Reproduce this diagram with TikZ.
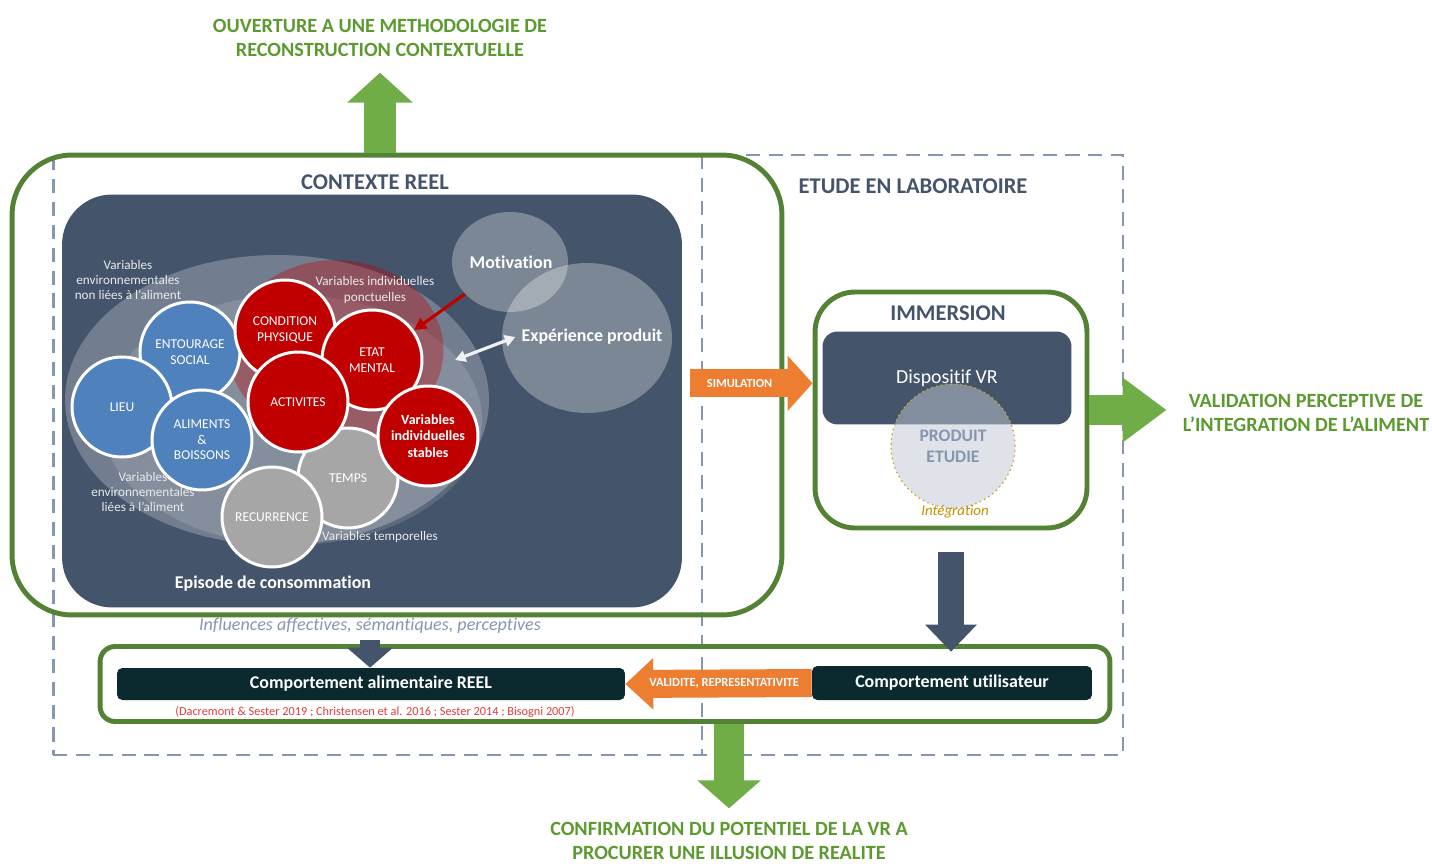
\documentclass[tikz,border=0pt]{standalone}
\usepackage{fontspec}
\setmainfont{Carlito}[Ligatures={NoCommon,NoContextual}, Contextuals=NoAlternate]
\usetikzlibrary{arrows.meta, positioning, shapes.geometric}
\definecolor{slate}{HTML}{44546A}
\definecolor{frameblue}{HTML}{8496B0}
\definecolor{leafline}{HTML}{548235}
\definecolor{leaf}{HTML}{70AD47}
\definecolor{leaftext}{HTML}{5B9A2E}
\definecolor{envblue}{HTML}{4F81BD}
\definecolor{indred}{HTML}{C00000}
\definecolor{tempgray}{HTML}{A6A6A6}
\definecolor{nightbox}{HTML}{0B2A30}
\definecolor{simorange}{HTML}{ED7D31}
\definecolor{mist}{HTML}{C0C8D3}
\definecolor{gold}{HTML}{BF9000}
\definecolor{cite}{HTML}{E03C3C}

\begin{document}
\begin{tikzpicture}[
  x=0.02cm, y=-0.02cm,
  greenbox/.style={draw=leafline, line width=2.8pt, rounded corners=#1},
  greenbox/.default=0.3cm,
  labframe/.style={draw=frameblue, line width=1.6pt, dash pattern=on 8pt off 5pt},
  head/.style={font=\fontsize{12.8}{15}\selectfont\bfseries, text=slate},
  outcome/.style={font=\fontsize{11.5}{13.4}\selectfont\bfseries, text=leaftext, align=center},
  bubble/.style={circle, draw=white, line width=1.7pt, minimum size=2cm, inner sep=0pt, align=center, font=\fontsize{7.7}{8.8}\selectfont, text=white},
  env/.style={bubble, fill=envblue},
  ind/.style={bubble, fill=indred},
  tmp/.style={bubble, fill=tempgray},
  cloud/.style={ellipse, fill=white, fill opacity=0.3, inner sep=0pt},
  cloudtxt/.style={text=white, font=\fontsize{10.2}{12}\selectfont\bfseries},
  varlbl/.style={text=white!88!slate, font=\fontsize{7.5}{8.6}\selectfont, align=center, inner sep=1pt},
  blockbox/.style={fill=nightbox, rounded corners=3pt, text=white, font=\fontsize{10.2}{12}\selectfont\bfseries},
  fat/.style args={#1/#2/#3}{line width=#1, -{Triangle[width=#2, length=#3]}}
]
\useasboundingbox (0,0) rectangle (1432,864);

\node[labframe, minimum width=21.4cm, minimum height=12cm] (lab) at (588,455) {};
\draw[labframe] (702,155) -- (702,755);

\node[greenbox=1.2cm, minimum width=15.4cm, minimum height=9.2cm] (ctx) at (397,385) {};
\node[head] (ctxtitle) at (375,182) {CONTEXTE REEL};
\node[head] (labtitle) at (913,186) {ETUDE EN LABORATOIRE};
\node[fill=slate, rounded corners=1cm, minimum width=12.4cm, minimum height=8.26cm] (panel) at (372,401) {};

\node[ellipse, fill=white, fill opacity=0.25, minimum width=8.48cm, minimum height=5.8cm] (epi) at (277,400) {};
\node[ellipse, fill=white, fill opacity=0.13, minimum width=7.6cm, minimum height=5cm] (epiin) at (292,420) {};
\node[ellipse, fill=indred, fill opacity=0.35, minimum width=4.3cm, minimum height=3.6cm] (redzone) at (336,350) {};

\node[cloud, minimum width=2.32cm, minimum height=2cm] (motiv) at (510,262) {};
\node[cloud, minimum width=3.4cm, minimum height=3cm] (expe) at (587,338) {};
\node[cloudtxt] (motivtxt) at (511,262) {Motivation};
\node[cloudtxt] (expetxt) at (592,337) {Expérience produit};

\node[env] (entourage) at (190,352) {ENTOURAGE\\SOCIAL};
\node[env] (lieu) at (122,407) {LIEU};
\node[env] (aliments) at (202,440) {ALIMENTS\\\&\\BOISSONS};
\node[tmp] (temps) at (348,478) {TEMPS};
\node[tmp] (recurrence) at (272,517) {RECURRENCE};
\node[ind] (condition) at (285,330) {CONDITION\\PHYSIQUE};
\node[ind] (etat) at (372,360) {ETAT\\MENTAL};
\node[ind] (activites) at (298,402) {ACTIVITES};
\node[ind, font=\fontsize{8}{9.2}\selectfont\bfseries] (stables) at (428,436) {Variables\\individuelles\\stables};

\node[varlbl] (envnon) at (128,280) {Variables\\environnementales\\non liées à l’aliment};
\node[varlbl] (indponct) at (375,290) {Variables individuelles\\ponctuelles};
\node[varlbl] (envlie) at (143,492) {Variables\\environnementales\\liées à l’aliment};
\node[varlbl] (temporal) at (380,537) {Variables temporelles};
\node[font=\fontsize{10.2}{12}\selectfont\bfseries, text=white] (episode) at (273,584) {Episode de consommation};

\coordinate (epiR) at (455,360);
\draw[indred, line width=1.8pt, -{Triangle[length=7pt, width=7pt]}] (motiv) -- (etat);
\draw[white!92!slate, line width=1.8pt, {Triangle[length=6pt, width=6.5pt]}-{Triangle[length=6pt, width=6.5pt]}] (expetxt.west) -- (epiR);

\node[greenbox=0.8cm, minimum width=5.44cm, minimum height=4.72cm] (imm) at (951,410) {};
\node[head] (immtitle) at (948,313) {IMMERSION};
\node[fill=slate, rounded corners=0.3cm, minimum width=4.98cm, minimum height=1.86cm, text=white, font=\fontsize{11.3}{13}\selectfont] (dvr) at (947,378) {Dispositif VR};
\node[circle, fill=mist, fill opacity=0.5, draw=gold!80!white, dotted, line width=0.8pt, minimum size=2.48cm, text opacity=1, text=frameblue, font=\fontsize{10}{12}\selectfont\bfseries, align=center] (prod) at (953,446) {PRODUIT\\ETUDIE};
\node[text=gold, font=\fontsize{8.5}{10}\selectfont\itshape] (integ) at (955,512) {Intégration};

\node[greenbox=0.3cm, minimum width=20.2cm, minimum height=1.5cm] (bot) at (605,684) {};
\node[blockbox, minimum width=10.16cm, minimum height=0.64cm] (cra) at (371,684) {Comportement alimentaire REEL};
\node[blockbox, minimum width=5.6cm, minimum height=0.68cm] (cu) at (952,683) {Comportement utilisateur};
\node[text=cite, font=\fontsize{7}{8}\selectfont] (refs) at (375,712) {(Dacremont \& Sester 2019 ; Christensen et al. 2016 ; Sester 2014 ; Bisogni 2007)};
\node[text=frameblue, font=\fontsize{10.3}{12}\selectfont\itshape] (infl) at (370,626) {Influences affectives, sémantiques, perceptives};

\node[outcome] (ouv) at (380,38) {OUVERTURE A UNE METHODOLOGIE DE\\RECONSTRUCTION CONTEXTUELLE};
\node[outcome] (valid) at (1306,413) {VALIDATION PERCEPTIVE DE\\L’INTEGRATION DE L’ALIMENT};
\node[outcome] (conf) at (729,841) {CONFIRMATION DU POTENTIEL DE LA VR A\\PROCURER UNE ILLUSION DE REALITE};

\draw[fat=0.64cm/1.28cm/0.6cm, leaf, shorten >=0.2cm] (ctx.north -| ouv.south) -- (ouv.south);
\draw[fat=0.6cm/1.24cm/0.88cm, leaf, shorten >=0.2cm] (imm.east) -- (imm.east -| valid.west);
\draw[fat=0.6cm/1.24cm/0.56cm, leaf, shorten >=0.16cm] (bot.south -| conf.north) -- (conf.north);
\draw[fat=0.56cm/1.08cm/0.5cm, simorange, shorten <=0.16cm] (panel.east |- prod.north) -- node[pos=0.44, text=white, font=\fontsize{7}{8}\selectfont\bfseries]{SIMULATION} (imm.west |- prod.north);
\draw[fat=0.52cm/1cm/0.54cm, slate, shorten <=0.44cm, shorten >=0.28cm] (imm.south) -- (imm.south |- cu.north);
\draw[fat=0.4cm/0.9cm/0.4cm, slate] (infl.south) -- (infl.south |- cra.north);
\draw[fat=0.56cm/1cm/0.56cm, simorange] (cu.west) -- node[pos=0.47, text=white, font=\fontsize{7.1}{8}\selectfont\bfseries]{VALIDITE, REPRESENTATIVITE} (cra.east);
\end{tikzpicture}
\end{document}
